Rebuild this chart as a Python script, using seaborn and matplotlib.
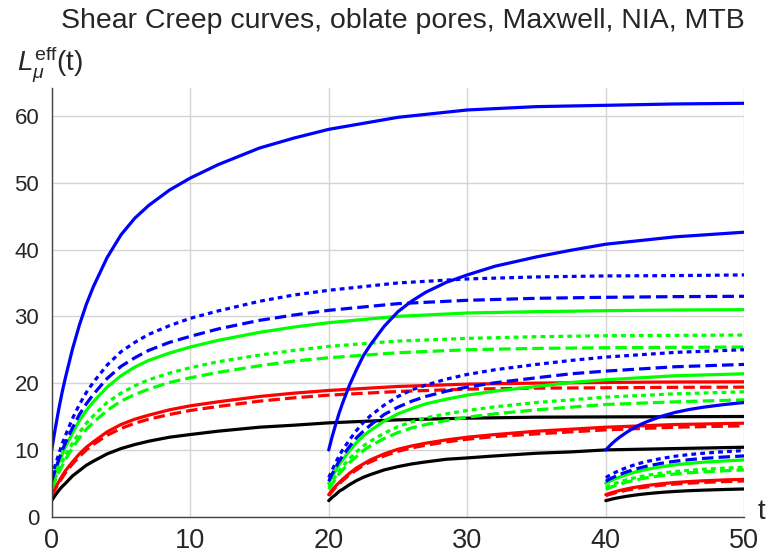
import numpy as np
import matplotlib
matplotlib.use("Agg")
import matplotlib.pyplot as plt
import seaborn as sns

sns.set_style("white")
plt.rcParams['font.family'] = ['Liberation Sans', 'DejaVu Sans']
plt.rcParams['mathtext.fontset'] = 'custom'
plt.rcParams['mathtext.rm'] = 'Liberation Sans'
plt.rcParams['mathtext.it'] = 'Liberation Sans:italic'

# time samples of the three loadings (start at t=0, 20, 40)
t_g1 = [0, 0.25, 0.5, 0.75, 1, 1.5, 2, 2.5, 3, 4, 5, 6, 7, 8.5, 10, 12, 15, 17.5, 20, 25, 30, 35, 40, 45, 50]
t_g2 = [20, 20.25, 20.5, 20.75, 21, 21.5, 22, 22.5, 23, 24, 25, 26, 27, 28.5, 30, 32, 35, 37.5, 40, 45, 50]
t_g3 = [40, 40.25, 40.5, 40.75, 41, 41.5, 42, 42.5, 43, 44, 45, 46, 47, 48.5, 50]

# loading at t=0
g1_blue      = [10.0, 13.1, 16.0, 18.6, 20.9, 25.1, 28.7, 31.8, 34.4, 38.8, 42.2, 44.7, 46.6, 48.9, 50.7, 52.7, 55.2, 56.7, 58.0, 59.8, 60.9, 61.4, 61.6, 61.8, 61.9]
g1_blue_dot  = [5.85, 7.7, 9.3, 10.9, 12.2, 14.7, 16.8, 18.6, 20.1, 22.7, 24.7, 26.1, 27.3, 28.6, 29.7, 30.8, 32.25, 33.2, 33.9, 35.0, 35.6, 35.9, 36.05, 36.1, 36.2]
g1_blue_dash = [5.3, 7.0, 8.5, 9.9, 11.1, 13.3, 15.3, 16.9, 18.3, 20.7, 22.5, 23.8, 24.9, 26.1, 27.0, 28.1, 29.4, 30.2, 30.9, 31.9, 32.4, 32.7, 32.85, 32.95, 33.0]
g1_green      = [5.0, 6.6, 8.0, 9.3, 10.5, 12.5, 14.4, 15.9, 17.2, 19.4, 21.1, 22.4, 23.4, 24.5, 25.4, 26.4, 27.6, 28.4, 29.05, 30.0, 30.5, 30.7, 30.85, 30.95, 31.0]
g1_green_dot  = [4.4, 5.8, 7.0, 8.2, 9.2, 11.0, 12.6, 14.0, 15.1, 17.1, 18.5, 19.6, 20.5, 21.5, 22.3, 23.2, 24.2, 24.9, 25.5, 26.3, 26.7, 26.95, 27.1, 27.15, 27.2]
g1_green_dash = [4.1, 5.4, 6.6, 7.6, 8.6, 10.3, 11.8, 13.1, 14.1, 15.9, 17.3, 18.3, 19.1, 20.1, 20.8, 21.6, 22.6, 23.3, 23.8, 24.55, 25.0, 25.2, 25.3, 25.36, 25.4]
g1_red      = [3.3, 4.3, 5.2, 6.1, 6.9, 8.2, 9.4, 10.4, 11.2, 12.7, 13.8, 14.6, 15.2, 16.0, 16.6, 17.2, 18.0, 18.5, 18.9, 19.5, 19.85, 20.0, 20.1, 20.17, 20.2]
g1_red_dash = [3.15, 4.1, 5.0, 5.8, 6.6, 7.9, 9.0, 10.0, 10.8, 12.2, 13.2, 14.0, 14.6, 15.3, 15.9, 16.5, 17.3, 17.8, 18.2, 18.75, 19.1, 19.25, 19.3, 19.37, 19.4]
g1_black = [2.4, 3.2, 3.9, 4.5, 5.0, 6.1, 6.9, 7.7, 8.3, 9.4, 10.2, 10.8, 11.3, 11.9, 12.3, 12.8, 13.4, 13.7, 14.05, 14.5, 14.75, 14.9, 14.94, 14.97, 15.0]

# loading at t=20
g2_blue      = [10.0, 12.0, 13.8, 15.5, 17.0, 19.7, 22.0, 24.1, 25.7, 28.5, 30.7, 32.3, 33.6, 35.1, 36.2, 37.5, 38.9, 39.9, 40.8, 41.9, 42.6]
g2_blue_dot  = [5.85, 7.0, 8.1, 9.1, 10.0, 11.5, 12.9, 14.1, 15.1, 16.7, 18.0, 19.0, 19.7, 20.6, 21.3, 22.0, 22.8, 23.4, 23.9, 24.6, 25.0]
g2_blue_dash = [5.3, 6.4, 7.4, 8.3, 9.1, 10.5, 11.8, 12.8, 13.7, 15.3, 16.4, 17.3, 18.0, 18.8, 19.4, 20.05, 20.8, 21.4, 21.8, 22.45, 22.8]
g2_green      = [5.0, 6.0, 6.9, 7.8, 8.5, 9.9, 11.1, 12.1, 12.9, 14.3, 15.4, 16.2, 16.9, 17.6, 18.2, 18.8, 19.5, 20.1, 20.5, 21.1, 21.4]
g2_green_dot  = [4.4, 5.3, 6.1, 6.8, 7.5, 8.7, 9.7, 10.6, 11.3, 12.5, 13.5, 14.2, 14.8, 15.4, 15.9, 16.45, 17.1, 17.5, 17.9, 18.4, 18.7]
g2_green_dash = [4.1, 4.9, 5.7, 6.4, 7.0, 8.1, 9.0, 9.9, 10.6, 11.7, 12.6, 13.3, 13.8, 14.4, 14.9, 15.4, 16.0, 16.4, 16.8, 17.2, 17.5]
g2_red      = [3.3, 4.0, 4.6, 5.1, 5.6, 6.5, 7.3, 7.9, 8.5, 9.4, 10.1, 10.6, 11.0, 11.5, 11.9, 12.3, 12.8, 13.1, 13.4, 13.8, 14.0]
g2_red_dash = [3.15, 3.8, 4.4, 4.9, 5.4, 6.3, 7.0, 7.7, 8.2, 9.1, 9.8, 10.3, 10.7, 11.2, 11.6, 12.0, 12.4, 12.7, 13.0, 13.4, 13.6]
g2_black = [2.4, 2.9, 3.3, 3.8, 4.1, 4.8, 5.4, 5.9, 6.3, 7.0, 7.5, 7.9, 8.2, 8.6, 8.8, 9.1, 9.5, 9.7, 10.0, 10.2, 10.4]

# loading at t=40
g3_blue      = [10.0, 10.54, 11.04, 11.49, 11.9, 12.62, 13.26, 13.8, 14.25, 15.02, 15.61, 16.04, 16.38, 16.78, 17.1]
g3_blue_dot  = [5.85, 6.16, 6.44, 6.70, 6.94, 7.34, 7.71, 8.02, 8.28, 8.71, 9.05, 9.30, 9.49, 9.72, 9.90]
g3_blue_dash = [5.3, 5.59, 5.85, 6.10, 6.32, 6.70, 7.04, 7.33, 7.58, 7.99, 8.30, 8.53, 8.72, 8.93, 9.10]
g3_green      = [5.0, 5.27, 5.51, 5.74, 5.94, 6.29, 6.61, 6.87, 7.10, 7.47, 7.77, 7.98, 8.15, 8.34, 8.50]
g3_green_dot  = [4.4, 4.63, 4.84, 5.03, 5.20, 5.51, 5.78, 6.01, 6.20, 6.52, 6.77, 6.95, 7.10, 7.27, 7.40]
g3_green_dash = [4.1, 4.32, 4.52, 4.71, 4.88, 5.17, 5.43, 5.65, 5.84, 6.15, 6.39, 6.57, 6.71, 6.87, 7.00]
g3_red      = [3.3, 3.47, 3.64, 3.78, 3.92, 4.15, 4.36, 4.53, 4.68, 4.93, 5.12, 5.26, 5.37, 5.50, 5.60]
g3_red_dash = [3.15, 3.32, 3.47, 3.61, 3.74, 3.96, 4.16, 4.33, 4.47, 4.71, 4.89, 5.02, 5.13, 5.25, 5.35]
g3_black = [2.4, 2.53, 2.66, 2.77, 2.87, 3.05, 3.20, 3.34, 3.45, 3.64, 3.78, 3.89, 3.97, 4.07, 4.15]

BLUE, GREEN, RED, BLACK = "#0000ff", "#00ff00", "#ff0000", "#000000"
SOLID = "-"
DOT = (0, (1.5, 1.3))
DASH = (0, (3.6, 1.6))
styles = [(BLACK, SOLID), (RED, SOLID), (RED, DASH), (GREEN, SOLID), (GREEN, DOT), (GREEN, DASH),
          (BLUE, SOLID), (BLUE, DOT), (BLUE, DASH)]

curves = []
for t, grp in [(t_g1, [g1_black, g1_red, g1_red_dash, g1_green, g1_green_dot, g1_green_dash, g1_blue, g1_blue_dot, g1_blue_dash]),
               (t_g2, [g2_black, g2_red, g2_red_dash, g2_green, g2_green_dot, g2_green_dash, g2_blue, g2_blue_dot, g2_blue_dash]),
               (t_g3, [g3_black, g3_red, g3_red_dash, g3_green, g3_green_dot, g3_green_dash, g3_blue, g3_blue_dot, g3_blue_dash])]:
    for y, (c, ls) in zip(grp, styles):
        curves.append((t, y, c, ls))

fig = plt.figure(figsize=(7.74, 5.59), dpi=100)
ax = fig.add_axes([0.0668, 0.0757, 0.8948, 0.767])

for t, y, c, ls in curves:
    sns.lineplot(x=t, y=y, color=c, linestyle=ls, linewidth=2.3, ax=ax,
                 sort=False, estimator=None)

ax.set_xlim(0, 50)
ax.set_ylim(0, 64.2)
ax.set_xticks(range(0, 51, 10))
ax.set_xticks(np.arange(0, 51, 2), minor=True)
ax.set_yticks(range(0, 61, 10))
ax.set_yticks(np.arange(0, 64, 2), minor=True)
ax.tick_params(which='major', direction='in', length=6, width=1, color='#444444')
ax.tick_params(which='minor', direction='in', length=3.5, width=0.8, color='#444444')
ax.tick_params(axis='x', which='major', labelsize=19.5, pad=8)
ax.tick_params(axis='y', which='major', labelsize=16, pad=9)
ax.grid(True, which='major', color='#d4d4d4', linewidth=1)
ax.set_axisbelow(True)
for s in ['top', 'right']:
    ax.spines[s].set_visible(False)
for s in ['left', 'bottom']:
    ax.spines[s].set_color('#444444')
    ax.spines[s].set_linewidth(1)
ax.set_xlabel("")
ax.set_ylabel("")

fig.text(403 / 774, 1 - 21 / 559, "Shear Creep curves, oblate pores, Maxwell, NIA, MTB",
         ha='center', va='center', fontsize=20.5)
fig.text(17 / 774, 1 - 64 / 559, r"$L_{\mu}^{\mathrm{eff}}$(t)", ha='left', va='center', fontsize=20)
fig.text(758 / 774, 1 - 512 / 559, "t", ha='left', va='center', fontsize=20)

plt.savefig("out.png", dpi=100)
